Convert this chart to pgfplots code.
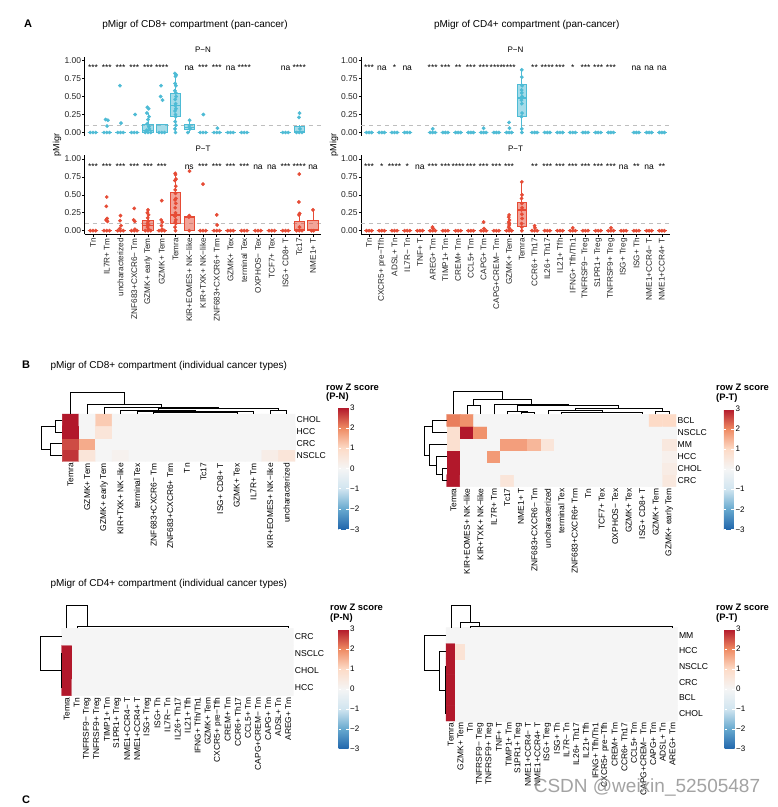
\documentclass[border=0pt]{standalone}
\usepackage{fontspec}
\setmainfont{Liberation Sans}
\usepackage{pgfplots}
\pgfplotsset{compat=1.18}
\usepgfplotslibrary{statistics}

\definecolor{pn}{HTML}{4DBBD5}
\definecolor{pt}{HTML}{E64B35}
\definecolor{refl}{HTML}{BEBEBE}

\newcommand\fs[1]{\fontsize{#1}{#1}\selectfont}
% box from prepared quartiles
\newcommand\bx[7]{\addplot[draw=#1, fill=#1, fill opacity=0.5, line width=0.7pt, forget plot,
  boxplot prepared={draw direction=y, draw position=#2, lower whisker=#3, lower quartile=#4,
  median=#5, upper quartile=#6, upper whisker=#7}] coordinates {};}
\newcommand\zb[2]{\bx{#1}{#2}{0}{0}{0}{0}{0}}
\newcommand\sg[2]{\node[font=\fs{8.5}, anchor=base, inner sep=0pt] at (axis cs:#1,0.86) {#2};}
\newcommand\dd[1]{\addplot[black, line width=0.6pt, mark=none, forget plot] coordinates {#1};}

\pgfplotsset{
  colormap={rdbu}{rgb255(0cm)=(33,102,172) rgb255(1cm)=(103,169,207) rgb255(2cm)=(209,229,240)
    rgb255(3cm)=(245,245,245) rgb255(4cm)=(253,219,199) rgb255(5cm)=(239,138,98) rgb255(6cm)=(178,24,43)},
  pA/.style={
    scale only axis, clip=false, anchor=south west,
    xmin=-0.6, ymin=-0.05, ymax=1.05,
    axis lines*=left,
    axis line style={line width=0.9pt, black},
    tick align=outside, major tick length=2.5pt,
    tick style={black, line width=0.6pt},
    ytick={0,0.25,0.5,0.75,1}, yticklabels={0.00,0.25,0.50,0.75,1.00},
    yticklabel style={font=\fs{8.5}, inner sep=1pt, text=black!85},
    xticklabel style={rotate=90, anchor=east, font=\fs{8.2}, inner sep=1.2pt, text=black!85},
    boxplot/box extend=0.75, boxplot/whisker extend=0,
    boxplot/every median/.style={line width=1.2pt},
  },
  pN/.style={pA, x axis line style={draw=none}, xtick=\empty, height=79.2pt},
  pT/.style={pA, height=78.9pt},
  dotN/.style={only marks, mark=*, mark size=1.7pt, color=pn, forget plot},
  dotT/.style={only marks, mark=*, mark size=1.7pt, color=pt, forget plot},
  hm/.style={
    scale only axis, clip=false, anchor=south west, enlargelimits=false,
    axis line style={draw=none}, tick style={draw=none}, major tick length=0pt,
    colormap name=rdbu, point meta min=-3, point meta max=3,
    yticklabel pos=right,
    xticklabel style={rotate=90, anchor=east, font=\fs{8.4}, inner sep=1.5pt},
    yticklabel style={anchor=west, font=\fs{8.6}, inner sep=1.5pt},
  },
  cbar/.style n args={3}{
    colorbar,
    colorbar style={at={(parent axis.north east)}, anchor=north west,
      xshift=#1, yshift=#2, scale only axis, width=10pt, height=#3,
      xtick=\empty, ytick={-3,-2,-1,0,1,2,3}, yticklabels={−3,−2,−1,0,1,2,3},
      yticklabel style={rotate=0, anchor=west, font=\fs{8}, inner sep=1.5pt},
      axis line style={draw=none}, tick style={draw=white, line width=0.8pt},
      major tick length=2.5pt, tick align=inside, ytick pos=both, yticklabel pos=right},
  },
  hmplot/.style={matrix plot*, shader=faceted, faceted color=mapped color, point meta=explicit},
}

\begin{document}
\begin{tikzpicture}
\fill[white] (0pt,0pt) rectangle (778pt,807pt);
\path[use as bounding box] (0pt,0pt) rectangle (778pt,807pt);

% ================= A: CD8+ P-N
\begin{axis}[pN, at={(84.75pt,670.9pt)}, width=236.5pt, xmax=16.6]
\addplot[refl, line width=0.7pt, dash pattern=on 4pt off 4pt, forget plot] coordinates {(-0.6,0.1) (16.6,0.1)};
\pgfplotsinvokeforeach{0,1,2,3,8,9,10,11,14}{\zb{pn}{#1}}
\bx{pn}{4}{0}{0}{0.03}{0.11}{0.27}
\bx{pn}{5}{0}{0}{0}{0.11}{0.11}
\bx{pn}{6}{0}{0.22}{0.37}{0.55}{0.82}
\bx{pn}{7}{0}{0.04}{0.07}{0.11}{0.17}
\bx{pn}{15}{0}{0}{0.01}{0.08}{0.1}
\addplot[dotN] coordinates {
(-0.2,0) (0,0) (0.2,0)
(0.8,0) (1,0) (1.2,0) (0.92,0.18) (1.08,0.17) (1.02,0.09)
(1.8,0) (2,0) (2.2,0) (1.96,0.65) (2.04,0.13)
(2.8,0) (3,0) (3.2,0) (3.06,0.25)
(3.8,0) (4,0) (4.2,0) (3.95,0.35) (4.05,0.33) (3.92,0.27) (4.08,0.22) (4.0,0.18) (3.94,0.12) (4.06,0.08) (4.1,0.05) (3.9,0.03)
(4.8,0) (5,0) (5.2,0) (4.95,0.65) (4.92,0.50) (5.06,0.45)
(6,0) (5.96,0.05) (6.03,0.10) (5.98,0.15) (6.02,0.22) (6.0,0.25) (5.97,0.30) (6.03,0.33) (5.99,0.37) (6.01,0.40)
(5.98,0.46) (6.04,0.50) (6.02,0.55) (5.96,0.58) (6.03,0.65) (5.97,0.68) (6.0,0.78) (6.05,0.80) (5.96,0.82)
(6.9,0) (7.05,0.05) (7.0,0.09) (7.02,0.17)
(7.8,0) (8,0) (8.2,0) (8.03,0.25)
(8.8,0) (9,0) (9.2,0) (9.05,0.06)
(9.8,0) (10,0) (10.2,0)
(10.8,0) (11,0) (11.2,0)
(13.8,0) (14,0) (14.2,0)
(14.8,0) (15,0) (15.2,0) (15.02,0.27) (14.98,0.21) (15.05,0.05)
};
\sg{0}{***}\sg{1}{***}\sg{2}{***}\sg{3}{***}\sg{4}{***}\sg{5}{****}\sg{7}{na}\sg{8}{***}
\sg{9}{***}\sg{10}{na}\sg{11}{****}\sg{14}{na}\sg{15}{****}
\end{axis}

% ================= A: CD8+ P-T
\begin{axis}[pT, at={(84.75pt,572.7pt)}, width=236.5pt, xmax=16.6,
  xtick={0,...,16},
  xticklabels={Tn,IL7R+ Tm,uncharacterized,ZNF683+CXCR6− Tm,GZMK+ early Tem,GZMK+ Tem,Temra,
    KIR+EOMES+ NK−like,KIR+TXK+ NK−like,ZNF683+CXCR6+ Trm,GZMK+ Tex,terminal Tex,OXPHOS− Tex,
    TCF7+ Tex,ISG+ CD8+ T,Tc17,NME1+ T}]
\addplot[refl, line width=0.7pt, dash pattern=on 4pt off 4pt, forget plot] coordinates {(-0.6,0.1) (16.6,0.1)};
\pgfplotsinvokeforeach{0,1,2,3,5,8,9,10,11,12,13,14}{\zb{pt}{#1}}
\bx{pt}{4}{0}{0.01}{0.07}{0.14}{0.29}
\bx{pt}{6}{0}{0.10}{0.22}{0.53}{0.80}
\bx{pt}{7}{0}{0}{0.18}{0.20}{0.21}
\bx{pt}{15}{0}{0}{0.02}{0.13}{0.24}
\bx{pt}{16}{0}{0}{0.01}{0.15}{0.29}
\addplot[dotT] coordinates {
(-0.2,0) (0,0) (0.2,0)
(0.8,0) (1,0) (1.2,0) (1.0,0.47) (0.97,0.34) (1.03,0.17) (0.95,0.15) (1.05,0.13)
(1.8,0) (2,0) (2.2,0) (2.0,0.21) (1.97,0.14) (2.04,0.07) (1.95,0.03)
(2.8,0) (3,0) (3.2,0) (3.0,0.31) (2.96,0.15) (3.04,0.13) (3.05,0.02)
(3.8,0) (4,0) (4.2,0) (4.0,0.29) (3.96,0.25) (4.04,0.22) (3.98,0.18) (4.02,0.13) (3.95,0.10) (4.05,0.08) (3.97,0.05) (4.03,0.02)
(4.8,0) (5,0) (5.2,0) (5.0,0.42) (4.96,0.15) (5.04,0.12) (4.98,0.07) (5.03,0.02)
(6,0) (5.97,0.05) (6.03,0.10) (5.98,0.12) (6.02,0.15) (5.96,0.20) (6.04,0.22) (6.0,0.25) (5.98,0.32) (6.02,0.38)
(5.97,0.43) (6.03,0.45) (6.0,0.52) (5.98,0.57) (6.02,0.62) (5.96,0.70) (6.04,0.72) (6.0,0.78) (5.98,0.80)
(7,0) (6.97,0.19) (7.03,0.20) (7.0,0.21) (7.02,0.83)
(7.8,0) (8,0) (8.2,0) (8.0,0.65)
(8.8,0) (9,0) (9.2,0) (9.0,0.22) (9.03,0.08)
(9.8,0) (10,0) (10.2,0)
(10.8,0) (11,0) (11.2,0)
(11.8,0) (12,0) (12.2,0)
(12.8,0) (13,0) (13.2,0)
(13.8,0) (14,0) (14.2,0)
(14.8,0) (15,0) (15.2,0) (15.0,0.79) (14.97,0.40) (15.03,0.24) (14.98,0.22) (15.02,0.05)
(15.9,0) (16.05,0) (16.0,0.29)
};
\sg{0}{***}\sg{1}{***}\sg{2}{***}\sg{3}{***}\sg{4}{***}\sg{5}{***}\sg{7}{ns}\sg{8}{***}
\sg{9}{***}\sg{10}{***}\sg{11}{***}\sg{12}{na}\sg{13}{na}\sg{14}{***}\sg{15}{****}\sg{16}{na}
\end{axis}

% ================= A: CD4+ P-N
\begin{axis}[pN, at={(361.4pt,670.9pt)}, width=308.1pt, xmax=23.6]
\addplot[refl, line width=0.7pt, dash pattern=on 4pt off 4pt, forget plot] coordinates {(-0.6,0.1) (23.6,0.1)};
\pgfplotsinvokeforeach{0,1,2,3,5,6,7,8,9,10,11,13,14,15,16,17,18,19,21,22,23}{\zb{pn}{#1}}
\bx{pn}{12}{0}{0.23}{0.48}{0.67}{0.87}
\addplot[dotN] coordinates {
(-0.2,0) (0,0) (0.2,0) (0.8,0) (1,0) (1.2,0) (1.8,0) (2,0) (2.2,0) (2.8,0) (3,0) (3.2,0)
(4.8,0) (5,0) (5.2,0) (5.0,0.05) (5.8,0) (6,0) (6.2,0) (6.8,0) (7,0) (7.2,0) (7.8,0) (8,0) (8.2,0)
(8.8,0) (9,0) (9.2,0) (9.0,0.06) (9.8,0) (10,0) (10.2,0) (10.8,0) (11,0) (11.2,0) (11.0,0.14) (11.03,0.06)
(12,0) (12.0,0.05) (11.98,0.22) (12.02,0.27) (12.0,0.40) (11.97,0.45) (12.03,0.50) (12.0,0.55) (11.98,0.59) (12.02,0.65) (12.0,0.77) (12.0,0.87)
(12.8,0) (13,0) (13.2,0) (13.8,0) (14,0) (14.2,0) (14.8,0) (15,0) (15.2,0) (15.8,0) (16,0) (16.2,0)
(16.8,0) (17,0) (17.2,0) (17.8,0) (18,0) (18.2,0) (18.8,0) (19,0) (19.2,0)
(20.8,0) (21,0) (21.2,0) (21.8,0) (22,0) (22.2,0) (22.8,0) (23,0) (23.2,0)
};
\sg{0}{***}\sg{1}{na}\sg{2}{*}\sg{3}{na}\sg{5}{***}\sg{6}{***}\sg{7}{**}\sg{8}{***}\sg{9}{***}
\sg{10}{****}\sg{11}{****}\sg{13}{**}\sg{14}{****}\sg{15}{***}\sg{16}{*}\sg{17}{***}\sg{18}{***}
\sg{19}{***}\sg{21}{na}\sg{22}{na}\sg{23}{na}
\end{axis}

% ================= A: CD4+ P-T
\begin{axis}[pT, at={(361.4pt,572.7pt)}, width=308.1pt, xmax=23.6,
  xtick={0,...,23},
  xticklabels={Tn,CXCR5+ pre−Tfh,ADSL+ Tn,IL7R− Tn,TNF+ T,AREG+ Tm,TIMP1+ Tm,CREM+ Tm,CCL5+ Tm,
    CAPG+ Tm,CAPG+CREM− Tm,GZMK+ Tem,Temra,CCR6+ Th17,IL26+ Th17,IL21+ Tfh,IFNG+ Tfh/Th1,
    TNFRSF9− Treg,S1PR1+ Treg,TNFRSF9+ Treg,ISG+ Treg,ISG+ Th,NME1+CCR4− T,NME1+CCR4+ T}]
\addplot[refl, line width=0.7pt, dash pattern=on 4pt off 4pt, forget plot] coordinates {(-0.6,0.1) (23.6,0.1)};
\pgfplotsinvokeforeach{0,1,2,3,4,5,6,7,8,9,10,11,13,14,15,16,17,18,19,20,21,22,23}{\zb{pt}{#1}}
\bx{pt}{12}{0}{0.065}{0.29}{0.40}{0.68}
\addplot[dotT] coordinates {
(-0.2,0) (0,0) (0.2,0) (0.8,0) (1,0) (1.2,0) (1.8,0) (2,0) (2.2,0) (2.8,0) (3,0) (3.2,0) (3.8,0) (4,0) (4.2,0)
(4.8,0) (5,0) (5.2,0) (4.98,0.05) (5.03,0.03) (5.8,0) (6,0) (6.2,0) (6.8,0) (7,0) (7.2,0) (7.8,0) (8,0) (8.2,0)
(8.8,0) (9,0) (9.2,0) (9.0,0.12) (9.03,0.03) (9.8,0) (10,0) (10.2,0)
(10.8,0) (11,0) (11.2,0) (11.0,0.22) (10.97,0.19) (11.03,0.15) (10.98,0.12) (11.02,0.10) (11.0,0.08) (10.97,0.05) (11.03,0.03)
(12,0) (12.0,0.05) (11.98,0.10) (12.02,0.17) (12.0,0.23) (11.97,0.29) (12.03,0.32) (12.0,0.38) (11.98,0.45) (12.02,0.50) (12.0,0.68)
(12.8,0) (13,0) (13.2,0) (13.0,0.07) (13.03,0.04) (13.8,0) (14,0) (14.2,0) (14.8,0) (15,0) (15.2,0)
(15.8,0) (16,0) (16.2,0) (16.0,0.04) (16.8,0) (17,0) (17.2,0) (17.8,0) (18,0) (18.2,0)
(18.8,0) (19,0) (19.2,0) (19.0,0.04) (19.8,0) (20,0) (20.2,0)
(20.8,0) (21,0) (21.2,0) (21.8,0) (22,0) (22.2,0) (22.8,0) (23,0) (23.2,0)
};
\sg{0}{***}\sg{1}{*}\sg{2}{****}\sg{3}{*}\sg{4}{na}\sg{5}{***}\sg{6}{***}\sg{7}{****}\sg{8}{***}
\sg{9}{***}\sg{10}{***}\sg{11}{***}\sg{13}{**}\sg{14}{***}\sg{15}{***}\sg{16}{***}\sg{17}{***}
\sg{18}{***}\sg{19}{***}\sg{20}{na}\sg{21}{**}\sg{22}{na}\sg{23}{**}
\end{axis}

% ================= B: CD8+ P-N heatmap
\begin{axis}[hm, cbar={35pt}{6.3pt}{121.6pt}, at={(62.3pt,345.5pt)}, width=232.7pt, height=47.5pt,
  xmin=-0.5, xmax=13.5, ymin=-0.5, ymax=3.5,
  xtick={0,...,13}, ytick={0,...,3}, yticklabels={NSCLC,CRC,HCC,CHOL},
  xticklabels={Temra,GZMK+ Tem,GZMK+ early Tem,KIR+TXK+ NK−like,terminal Tex,ZNF683+CXCR6− Tm,
    ZNF683+CXCR6+ Trm,Tn,Tc17,ISG+ CD8+ T,GZMK+ Tex,IL7R+ Tm,KIR+EOMES+ NK−like,uncharacterized}]
\addplot[hmplot, mesh/cols=14] coordinates {
(0,0) [2.75] (1,0) [0.6] (2,0) [0] (3,0) [0.15] (4,0) [0] (5,0) [0] (6,0) [0] (7,0) [0] (8,0) [0] (9,0) [0] (10,0) [0] (11,0) [0] (12,0) [0.3] (13,0) [0.6]
(0,1) [2.55] (1,1) [1.6] (2,1) [0] (3,1) [0] (4,1) [0] (5,1) [0] (6,1) [0] (7,1) [0] (8,1) [0] (9,1) [0] (10,1) [0] (11,1) [0] (12,1) [0] (13,1) [0]
(0,2) [3] (1,2) [0] (2,2) [0.6] (3,2) [0] (4,2) [0] (5,2) [0] (6,2) [0] (7,2) [0] (8,2) [0] (9,2) [0] (10,2) [0] (11,2) [0] (12,2) [0] (13,2) [0]
(0,3) [3] (1,3) [0] (2,3) [1.2] (3,3) [0] (4,3) [0] (5,3) [0] (6,3) [0] (7,3) [0] (8,3) [0] (9,3) [0] (10,3) [0] (11,3) [0] (12,3) [0] (13,3) [0]
};
\dd{(0,3.5) (0,5.327) (3.2,5.327) (3.2,4.342)}
\dd{(1,3.5) (1,4.342) (5.45,4.342) (5.45,4.064)}
\dd{(2,3.5) (2,4.064) (8.875,4.064) (8.875,3.946)}
\dd{(5.25,3.812) (5.25,3.946) (12.5,3.946) (12.5,3.812)}
\dd{(3,3.5) (3,3.812) (7.5,3.812) (7.5,3.71)}
\dd{(4,3.5) (4,3.71) (11,3.71) (11,3.5)}
\dd{(5,3.5) (5,3.62) (10,3.62) (10,3.5)}
\dd{(12,3.5) (12,3.812) (13,3.812) (13,3.5)}
\dd{(-0.5,3) (-0.897,3) (-0.897,2) (-0.5,2)}
\dd{(-0.5,1) (-1.198,1) (-1.198,0) (-0.5,0)}
\dd{(-0.897,2.5) (-1.78,2.5) (-1.78,0.5) (-1.198,0.5)}
\end{axis}

% ================= B: CD8+ P-T heatmap
\begin{axis}[hm, cbar={39.3pt}{5.3pt}{120.3pt}, at={(446.7pt,320.3pt)}, width=229.3pt, height=72.4pt,
  xmin=-0.5, xmax=16.5, ymin=-0.5, ymax=5.5,
  xtick={0,...,16}, ytick={0,...,5}, yticklabels={CRC,CHOL,HCC,MM,NSCLC,BCL},
  xticklabels={Temra,KIR+EOMES+ NK−like,KIR+TXK+ NK−like,IL7R+ Tm,Tc17,NME1+ T,ZNF683+CXCR6− Tm,
    uncharacterized,terminal Tex,ZNF683+CXCR6+ Trm,Tn,TCF7+ Tex,OXPHOS− Tex,GZMK+ Tex,ISG+ CD8+ T,
    GZMK+ Tem,GZMK+ early Tem}]
\addplot[hmplot, mesh/cols=17] coordinates {
(0,0) [3] (1,0) [0] (2,0) [0] (3,0) [0] (4,0) [0.6] (5,0) [0] (6,0) [0] (7,0) [0] (8,0) [0] (9,0) [0] (10,0) [0] (11,0) [0] (12,0) [0] (13,0) [0] (14,0) [0] (15,0) [0] (16,0) [0.5]
(0,1) [3] (1,1) [0] (2,1) [0] (3,1) [0] (4,1) [0] (5,1) [0] (6,1) [0] (7,1) [0] (8,1) [0] (9,1) [0] (10,1) [0] (11,1) [0] (12,1) [0] (13,1) [0] (14,1) [0] (15,1) [0] (16,1) [0.35]
(0,2) [3] (1,2) [0] (2,2) [0] (3,2) [1.8] (4,2) [0] (5,2) [0] (6,2) [0] (7,2) [0] (8,2) [0] (9,2) [0] (10,2) [0] (11,2) [0] (12,2) [0] (13,2) [0] (14,2) [0] (15,2) [0] (16,2) [0.2]
(0,3) [0.8] (1,3) [0] (2,3) [0] (3,3) [0] (4,3) [1.75] (5,3) [1.75] (6,3) [1.45] (7,3) [0.6] (8,3) [0] (9,3) [0] (10,3) [0] (11,3) [0] (12,3) [0] (13,3) [0] (14,3) [0] (15,3) [0] (16,3) [0.5]
(0,4) [0.8] (1,4) [3] (2,4) [1.9] (3,4) [0] (4,4) [0] (5,4) [0] (6,4) [0] (7,4) [0] (8,4) [0] (9,4) [0] (10,4) [0] (11,4) [0] (12,4) [0] (13,4) [0] (14,4) [0] (15,4) [0] (16,4) [0]
(0,5) [2.1] (1,5) [1.9] (2,5) [0] (3,5) [0] (4,5) [0] (5,5) [0] (6,5) [0] (7,5) [0] (8,5) [0] (9,5) [0] (10,5) [0] (11,5) [0] (12,5) [0] (13,5) [0] (14,5) [0] (15,5) [1.0] (16,5) [1.0]
};
\dd{(0,5.5) (0,7.372) (3.625,7.372) (3.625,6.768)}
\dd{(1.5,6.271) (1.5,6.768) (5.75,6.768) (5.75,6.329)}
\dd{(1,5.5) (1,6.271) (2,6.271) (2,5.5)}
\dd{(3,5.5) (3,6.329) (8.5,6.329) (8.5,6.213)}
\dd{(4.75,5.782) (4.75,6.213) (12.25,6.213) (12.25,5.972)}
\dd{(4,5.5) (4,5.782) (5.5,5.782) (5.5,5.666)}
\dd{(5,5.5) (5,5.666) (6,5.666) (6,5.5)}
\dd{(9,5.856) (9,5.972) (15.5,5.972) (15.5,5.773)}
\dd{(7,5.5) (7,5.856) (11,5.856) (11,5.707)}
\dd{(8,5.5) (8,5.707) (14,5.707) (14,5.5)}
\dd{(15,5.5) (15,5.773) (16,5.773) (16,5.5)}
\dd{(-0.5,5) (-1.567,5) (-1.567,4) (-0.5,4)}
\dd{(-0.5,1) (-0.8,1) (-0.8,0) (-0.5,0)}
\dd{(-0.5,2) (-1.24,2) (-1.24,0.5) (-0.8,0.5)}
\dd{(-0.5,3) (-1.79,3) (-1.79,1.25) (-1.24,1.25)}
\dd{(-1.567,4.5) (-2.16,4.5) (-2.16,2.125) (-1.79,2.125)}
\end{axis}

% ================= CD4+ P-N heatmap
\begin{axis}[hm, cbar={36.7pt}{-0.7pt}{120pt}, at={(61.7pt,111.3pt)}, width=231.6pt, height=67.4pt,
  xmin=-0.5, xmax=22.5, ymin=-0.5, ymax=3.5,
  xtick={0,...,22}, ytick={0,...,3}, yticklabels={HCC,CHOL,NSCLC,CRC},
  xticklabels={Temra,Tn,TNFRSF9− Treg,TNFRSF9+ Treg,TIMP1+ Tm,S1PR1+ Treg,NME1+CCR4− T,NME1+CCR4+ T,
    ISG+ Treg,ISG+ Th,IL7R− Tn,IL26+ Th17,IL21+ Tfh,IFNG+ Tfh/Th1,GZMK+ Tem,CXCR5+ pre−Tfh,CREM+ Tm,
    CCR6+ Th17,CCL5+ Tm,CAPG+CREM− Tm,CAPG+ Tm,ADSL+ Tn,AREG+ Tm}]
\addplot[hmplot, mesh/cols=23] coordinates {
(0,0) [3] (1,0) [0] (2,0) [0] (3,0) [0] (4,0) [0] (5,0) [0] (6,0) [0] (7,0) [0] (8,0) [0] (9,0) [0] (10,0) [0] (11,0) [0] (12,0) [0] (13,0) [0] (14,0) [0] (15,0) [0] (16,0) [0] (17,0) [0] (18,0) [0] (19,0) [0] (20,0) [0] (21,0) [0] (22,0) [0]
(0,1) [3] (1,1) [0] (2,1) [0] (3,1) [0] (4,1) [0] (5,1) [0] (6,1) [0] (7,1) [0] (8,1) [0] (9,1) [0] (10,1) [0] (11,1) [0] (12,1) [0] (13,1) [0] (14,1) [0] (15,1) [0] (16,1) [0] (17,1) [0] (18,1) [0] (19,1) [0] (20,1) [0] (21,1) [0] (22,1) [0]
(0,2) [3] (1,2) [0] (2,2) [0] (3,2) [0] (4,2) [0] (5,2) [0] (6,2) [0] (7,2) [0] (8,2) [0] (9,2) [0] (10,2) [0] (11,2) [0] (12,2) [0] (13,2) [0] (14,2) [0] (15,2) [0] (16,2) [0] (17,2) [0] (18,2) [0] (19,2) [0] (20,2) [0] (21,2) [0] (22,2) [0]
(0,3) [0] (1,3) [0] (2,3) [0] (3,3) [0] (4,3) [0] (5,3) [0] (6,3) [0] (7,3) [0] (8,3) [0] (9,3) [0] (10,3) [0] (11,3) [0] (12,3) [0] (13,3) [0] (14,3) [0] (15,3) [0] (16,3) [0] (17,3) [0] (18,3) [0] (19,3) [0] (20,3) [0] (21,3) [0] (22,3) [0]
};
\dd{(0,3.5) (0,4.841) (2.08,4.841) (2.08,3.595)}
\dd{(1,3.5) (1,3.595) (22,3.595) (22,3.5)}
\dd{(-0.5,3) (-2.585,3) (-2.585,1) (-0.55,1)}
\dd{(-0.5,2) (-0.55,2) (-0.55,0) (-0.5,0)}
\end{axis}

% ================= CD4+ P-T heatmap
\begin{axis}[hm, cbar={38.7pt}{-1.3pt}{120pt}, at={(446pt,86pt)}, width=231.3pt, height=93.3pt,
  xmin=-0.5, xmax=23.5, ymin=-0.5, ymax=5.5,
  xtick={0,...,23}, ytick={0,...,5}, yticklabels={CHOL,BCL,CRC,NSCLC,HCC,MM},
  xticklabels={Temra,GZMK+ Tem,Tn,TNFRSF9− Treg,TNFRSF9+ Treg,TNF+ T,TIMP1+ Tm,S1PR1+ Treg,
    NME1+CCR4− T,NME1+CCR4+ T,ISG+ Treg,ISG+ Th,IL7R− Tn,IL26+ Th17,IL21+ Tfh,IFNG+ Tfh/Th1,
    CXCR5+ pre−Tfh,CREM+ Tm,CCR6+ Th17,CCL5+ Tm,CAPG+CREM− Tm,CAPG+ Tm,ADSL+ Tn,AREG+ Tm}]
\addplot[hmplot, mesh/cols=24] coordinates {
(0,0) [3] (1,0) [0] (2,0) [0] (3,0) [0] (4,0) [0] (5,0) [0] (6,0) [0] (7,0) [0] (8,0) [0] (9,0) [0] (10,0) [0] (11,0) [0] (12,0) [0] (13,0) [0] (14,0) [0] (15,0) [0] (16,0) [0] (17,0) [0] (18,0) [0] (19,0) [0] (20,0) [0] (21,0) [0] (22,0) [0] (23,0) [0]
(0,1) [3] (1,1) [0] (2,1) [0] (3,1) [0] (4,1) [0] (5,1) [0] (6,1) [0] (7,1) [0] (8,1) [0] (9,1) [0] (10,1) [0] (11,1) [0] (12,1) [0] (13,1) [0] (14,1) [0] (15,1) [0] (16,1) [0] (17,1) [0] (18,1) [0] (19,1) [0] (20,1) [0] (21,1) [0] (22,1) [0] (23,1) [0]
(0,2) [3] (1,2) [0] (2,2) [0] (3,2) [0] (4,2) [0] (5,2) [0] (6,2) [0] (7,2) [0] (8,2) [0] (9,2) [0] (10,2) [0] (11,2) [0] (12,2) [0] (13,2) [0] (14,2) [0] (15,2) [0] (16,2) [0] (17,2) [0] (18,2) [0] (19,2) [0] (20,2) [0] (21,2) [0] (22,2) [0] (23,2) [0]
(0,3) [3] (1,3) [0] (2,3) [0] (3,3) [0] (4,3) [0] (5,3) [0] (6,3) [0] (7,3) [0] (8,3) [0] (9,3) [0] (10,3) [0] (11,3) [0] (12,3) [0] (13,3) [0] (14,3) [0] (15,3) [0] (16,3) [0] (17,3) [0] (18,3) [0] (19,3) [0] (20,3) [0] (21,3) [0] (22,3) [0] (23,3) [0]
(0,4) [3] (1,4) [0.7] (2,4) [0] (3,4) [0] (4,4) [0] (5,4) [0] (6,4) [0] (7,4) [0] (8,4) [0] (9,4) [0] (10,4) [0] (11,4) [0] (12,4) [0] (13,4) [0] (14,4) [0] (15,4) [0] (16,4) [0] (17,4) [0] (18,4) [0] (19,4) [0] (20,4) [0] (21,4) [0] (22,4) [0] (23,4) [0]
(0,5) [0] (1,5) [0] (2,5) [0] (3,5) [0] (4,5) [0] (5,5) [0] (6,5) [0] (7,5) [0] (8,5) [0] (9,5) [0] (10,5) [0] (11,5) [0] (12,5) [0] (13,5) [0] (14,5) [0] (15,5) [0] (16,5) [0] (17,5) [0] (18,5) [0] (19,5) [0] (20,5) [0] (21,5) [0] (22,5) [0] (23,5) [0]
};
\dd{(0,5.5) (0,6.915) (2,6.915) (2,5.822)}
\dd{(1,5.5) (1,5.822) (3,5.822) (3,5.564)}
\dd{(2,5.5) (2,5.564) (23,5.564) (23,5.5)}
\dd{(-0.5,5) (-2.75,5) (-2.75,2.75) (-1.195,2.75)}
\dd{(-0.5,4) (-1.195,4) (-1.195,1.5) (-0.6,1.5)}
\dd{(-0.5,3) (-0.6,3) (-0.6,0) (-0.5,0)}
\end{axis}

% ================= text
\node[font=\bfseries\fs{11}] at (28pt,783pt) {A};
\node[font=\bfseries\fs{11}] at (26pt,442pt) {B};
\node[font=\bfseries\fs{11}] at (26pt,7pt) {C};
\node[font=\fs{10}] at (195pt,782pt) {pMigr of CD8+ compartment (pan-cancer)};
\node[font=\fs{10}] at (526.7pt,782pt) {pMigr of CD4+ compartment (pan-cancer)};
\node[font=\fs{8}] at (203pt,757pt) {P−N};
\node[font=\fs{8}] at (515.5pt,757pt) {P−N};
\node[font=\fs{8}] at (203pt,658.7pt) {P−T};
\node[font=\fs{8}] at (515.5pt,658.7pt) {P−T};
\node[font=\fs{9}, rotate=90] at (57pt,662pt) {pMigr};
\node[font=\fs{9}, rotate=90] at (334pt,662pt) {pMigr};
\node[font=\fs{10}, anchor=west] at (47pt,441pt) {pMigr of CD8+ compartment (individual cancer types)};
\node[font=\fs{10}, anchor=west] at (47pt,223pt) {pMigr of CD4+ compartment (individual cancer types)};
\node[font=\bfseries\fs{9.4}, anchor=west, inner sep=0pt] at (326pt,420pt) {row Z score};
\node[font=\bfseries\fs{9.4}, anchor=west, inner sep=0pt] at (326pt,410.3pt) {(P-N)};
\node[font=\bfseries\fs{9.4}, anchor=west, inner sep=0pt] at (716pt,419.7pt) {row Z score};
\node[font=\bfseries\fs{9.4}, anchor=west, inner sep=0pt] at (716pt,408.7pt) {(P-T)};
\node[font=\bfseries\fs{9.4}, anchor=west, inner sep=0pt] at (330pt,199.3pt) {row Z score};
\node[font=\bfseries\fs{9.4}, anchor=west, inner sep=0pt] at (330pt,189.3pt) {(P-N)};
\node[font=\bfseries\fs{9.4}, anchor=west, inner sep=0pt] at (716pt,199.3pt) {row Z score};
\node[font=\bfseries\fs{9.4}, anchor=west, inner sep=0pt] at (716pt,189.3pt) {(P-T)};
\node[font=\fs{19}, text=black!45, opacity=0.8] at (647pt,19pt) {CSDN @weixin\_52505487};
\end{tikzpicture}
\end{document}
